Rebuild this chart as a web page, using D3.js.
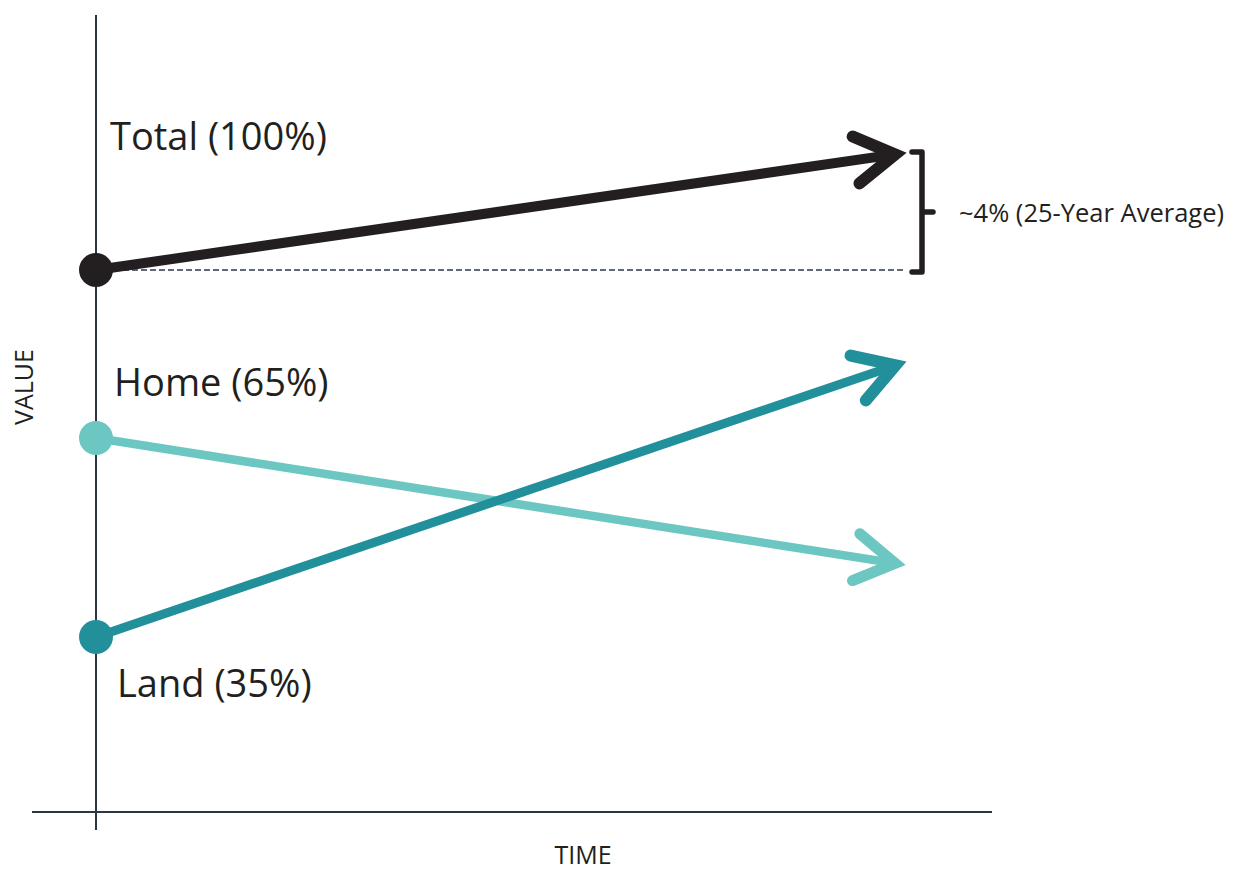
<!DOCTYPE html>
<html><head><meta charset="utf-8">
<script src="https://cdn.jsdelivr.net/npm/d3@7"></script>
<style>body{margin:0;background:#fff;}svg{display:block;}</style>
</head><body>
<script>
// Data (arbitrary value units, x axis = 0 at start, 1 at end)
const seriesNames = ["Total (100%)", "Home (65%)", "Land (35%)"];
const startValues = [100, 69, 32.3];
const endValues = [121.6, 45.6, 83];
const seriesColors = ["#231f20", "#6cc6c2", "#21909a"];
const timePoints = [0, 1];
const bracketLabel = "~4% (25-Year Average)";
const xAxisLabel = "TIME";
const yAxisLabel = "VALUE";

const W = 1242, H = 874;
const svg = d3.select("body").append("svg").attr("width", W).attr("height", H);
const font = "'Open Sans', 'Noto Sans', sans-serif";

const x = d3.scaleLinear().domain([0, 1]).range([96, 905]);
const y = d3.scaleLinear().domain([0, 100]).range([812, 270]);

// axes
svg.append("line").attr("x1", 32).attr("x2", 992).attr("y1", y(0)).attr("y2", y(0))
  .attr("stroke", "#2b3544").attr("stroke-width", 2);
svg.append("line").attr("x1", x(0)).attr("x2", x(0)).attr("y1", 15).attr("y2", 830)
  .attr("stroke", "#2b3544").attr("stroke-width", 2);

// dashed reference line at total start
svg.append("line").attr("x1", x(0)).attr("x2", x(1) - 2)
  .attr("y1", y(startValues[0])).attr("y2", y(startValues[0]))
  .attr("stroke", "#2d3a4a").attr("stroke-width", 1.5).attr("stroke-dasharray", "6,3");

const widths = [10, 8.5, 9];
const headWidths = [12, 11, 12];
const order = [1, 2, 0];
order.forEach(i => {
  const x0 = x(timePoints[0]), y0 = y(startValues[i]);
  const x1 = x(timePoints[1]), y1 = y(endValues[i]);
  const ang = Math.atan2(y1 - y0, x1 - x0);
  const g = svg.append("g");
  const back = 12;
  g.append("line").attr("x1", x0).attr("y1", y0)
    .attr("x2", x1 - back * Math.cos(ang)).attr("y2", y1 - back * Math.sin(ang))
    .attr("stroke", seriesColors[i]).attr("stroke-width", widths[i]);
  const L = 46, a = 31 * Math.PI / 180;
  const tip = [x1 - 10 * Math.cos(ang), y1 - 10 * Math.sin(ang)];
  const p1 = [tip[0] - L * Math.cos(ang - a), tip[1] - L * Math.sin(ang - a)];
  const p2 = [tip[0] - L * Math.cos(ang + a), tip[1] - L * Math.sin(ang + a)];
  g.append("path").attr("d", d3.line()([p1, tip, p2]))
    .attr("fill", "none").attr("stroke", seriesColors[i]).attr("stroke-width", headWidths[i])
    .attr("stroke-linecap", "round").attr("stroke-linejoin", "miter").attr("stroke-miterlimit", 10);
  g.append("circle").attr("cx", x0).attr("cy", y0).attr("r", 17).attr("fill", seriesColors[i]);
});

// series labels
const labelPos = [[110, 150], [114, 396], [117, 697]];
seriesNames.forEach((n, i) => {
  svg.append("text").attr("x", labelPos[i][0]).attr("y", labelPos[i][1])
    .attr("font-family", font).attr("font-size", 38).attr("fill", "#231f20").text(n);
});

// bracket
const bTop = y(endValues[0]) - 1, bBot = y(startValues[0]) + 2;
const bx = 922;
svg.append("path")
  .attr("d", `M912,${bTop} H${bx} V${bBot} H912 M${bx},${(bTop + bBot) / 2} H933`)
  .attr("fill", "none").attr("stroke", "#231f20").attr("stroke-width", 5.5).attr("stroke-linejoin", "round")
  .attr("stroke-linecap", "round");
svg.append("text").attr("x", 959).attr("y", 222)
  .attr("font-family", font).attr("font-size", 25.5).attr("fill", "#231f20").text(bracketLabel);

// axis labels
svg.append("text").attr("x", 583).attr("y", 864).attr("text-anchor", "middle")
  .attr("font-family", font).attr("font-size", 25).attr("fill", "#231f20").text(xAxisLabel);
svg.append("text").attr("transform", "translate(33,387) rotate(-90)").attr("text-anchor", "middle")
  .attr("font-family", font).attr("font-size", 25).attr("fill", "#231f20").text(yAxisLabel);
</script>
</body></html>
